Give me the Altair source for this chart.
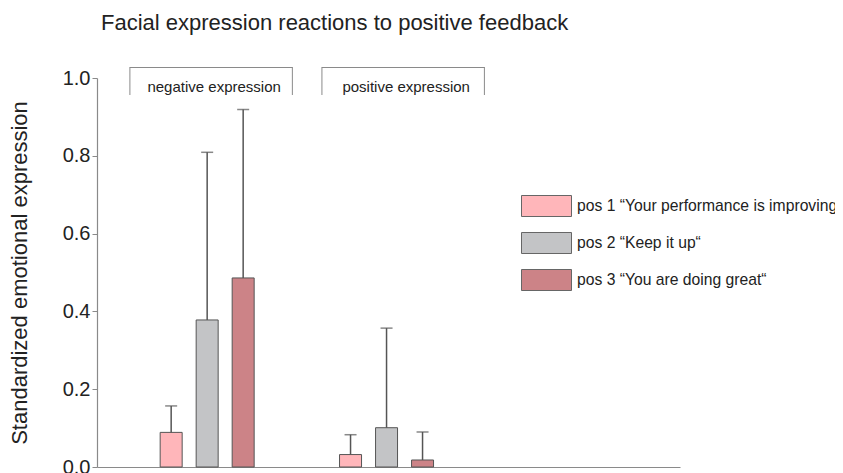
import altair as alt
import pandas as pd

groups = ["negative expression", "positive expression"]
series = [
    "pos 1 \u201cYour performance is improving\u201c",
    "pos 2 \u201cKeep it up\u201c",
    "pos 3 \u201cYou are doing great\u201c",
]
neg_means = [0.089, 0.378, 0.486]
neg_upper = [0.157, 0.809, 0.919]
pos_means = [0.032, 0.101, 0.018]
pos_upper = [0.083, 0.357, 0.090]
colors = ["#FFB6BA", "#C3C4C6", "#CC8387"]
y_ticks = [0.0, 0.2, 0.4, 0.6, 0.8, 1.0]

rows = []
for g, means, ups in zip(groups, [neg_means, pos_means], [neg_upper, pos_upper]):
    for s, m, u in zip(series, means, ups):
        rows.append({"group": g, "series": s, "mean": m, "upper": u})
df = pd.DataFrame(rows)
brackets = pd.DataFrame({"group": groups})

FONT = "Liberation Sans"
DARK = "#222222"
GREY = "#8a8a8a"
EDGE = "#555555"

x_scale = alt.Scale(domain=groups, paddingInner=0.476, paddingOuter=0.863, align=0.204)
xo_scale = alt.Scale(domain=series, paddingInner=0.389, paddingOuter=0)
x_axis = alt.Axis(labels=False, ticks=False, title=None, domainColor=GREY, domainWidth=1.2, grid=False)
y_axis = alt.Axis(
    title="Standardized emotional expression",
    values=y_ticks,
    format=".1f",
    grid=False,
    domainColor=GREY,
    domainWidth=1.2,
    tickColor=GREY,
    tickSize=5,
    labelFontSize=20,
    labelFont=FONT,
    labelColor=DARK,
    labelPadding=2,
    titleFontSize=22,
    titleFont=FONT,
    titleColor=DARK,
    titleFontWeight="normal",
    titlePadding=31,
)
y_scale = alt.Scale(domain=[0, 1])

X = alt.X("group:N", scale=x_scale, axis=x_axis)
XO = alt.XOffset("series:N", scale=xo_scale)

bars = alt.Chart(df).mark_bar(stroke=EDGE, strokeWidth=1).encode(
    x=X,
    xOffset=XO,
    y=alt.Y("mean:Q", scale=y_scale, axis=y_axis),
    color=alt.Color(
        "series:N",
        scale=alt.Scale(domain=series, range=colors),
        legend=alt.Legend(
            title=None,
            orient="none",
            legendX=424,
            legendY=117,
            symbolType="M-1,-0.42H1V0.42H-1Z",
            symbolSize=2500,
            symbolStrokeColor="#666666",
            symbolStrokeWidth=1,
            symbolOpacity=1,
            clipHeight=22,
            rowPadding=15,
            labelFontSize=15.7,
            labelFont=FONT,
            labelColor=DARK,
            labelOffset=5,
            labelLimit=500,
            padding=0,
        ),
    ),
)

err = alt.Chart(df).mark_rule(color=EDGE, strokeWidth=1.5).encode(
    x=X,
    xOffset=XO,
    y=alt.Y("mean:Q", scale=y_scale, axis=y_axis),
    y2="upper:Q",
)

caps = alt.Chart(df).mark_tick(color=EDGE, thickness=1.5, size=12).encode(
    x=X,
    xOffset=XO,
    y=alt.Y("upper:Q", scale=y_scale, axis=y_axis),
)

main = alt.layer(bars, err, caps)

bx_scale = alt.Scale(domain=groups, paddingInner=0.154, paddingOuter=0.595, align=0.144)

b_top = alt.Chart(brackets).mark_rect(color=GREY).encode(
    x=alt.X("group:N", scale=bx_scale, axis=None),
    y=alt.value(-11),
    y2=alt.value(-10),
)
b_left = alt.Chart(brackets).mark_rule(color=GREY, strokeWidth=1).encode(
    x=alt.X("group:N", scale=bx_scale, axis=None, bandPosition=0),
    y=alt.value(-11),
    y2=alt.value(17),
)
b_right = alt.Chart(brackets).mark_rule(color=GREY, strokeWidth=1).encode(
    x=alt.X("group:N", scale=bx_scale, axis=None, bandPosition=1),
    y=alt.value(-11),
    y2=alt.value(17),
)
b_text = alt.Chart(brackets).mark_text(fontSize=15, font=FONT, color=DARK, dx=3).encode(
    x=alt.X("group:N", scale=bx_scale, axis=None),
    y=alt.value(9),
    text="group:N",
)
bracket_layer = alt.layer(b_top, b_left, b_right, b_text)

chart = (
    alt.layer(main, bracket_layer)
    .resolve_scale(x="independent")
    .properties(
        width=583,
        height=389,
        title=alt.TitleParams(
            "Facial expression reactions to positive feedback",
            anchor="start",
            frame="group",
            fontSize=22,
            font=FONT,
            color=DARK,
            fontWeight="normal",
            offset=32,
            dx=4,
        ),
        autosize=alt.AutoSizeParams(type="none"),
        padding={"left": 89, "top": 70, "right": 155, "bottom": 6},
    )
    .configure(background="white")
    .configure_view(strokeWidth=0, strokeOpacity=0)
)

chart.save("out.html", embed_options={"renderer": "svg", "actions": False})
